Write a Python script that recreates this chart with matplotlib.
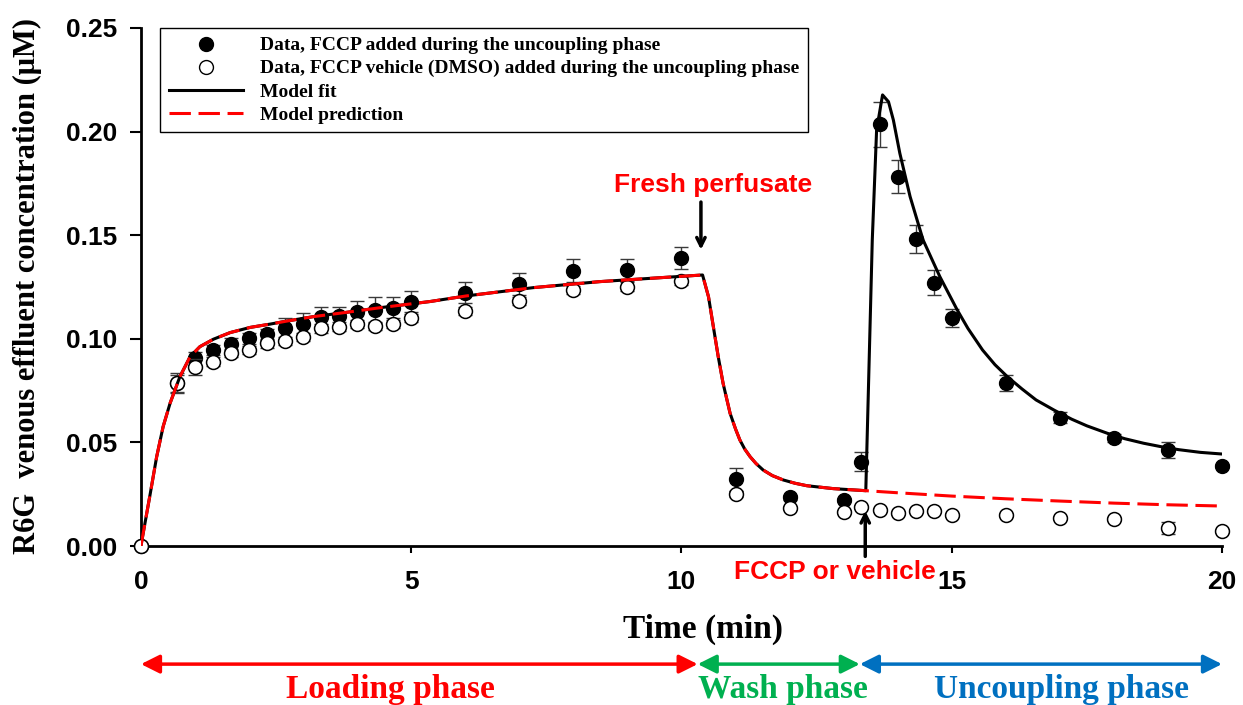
import matplotlib
matplotlib.use("Agg")
import matplotlib.pyplot as plt
from matplotlib.lines import Line2D

# sampling times (min)
t_data = [0, 0.67, 1.0, 1.33, 1.67, 2.0, 2.33, 2.67, 3.0, 3.33, 3.67, 4.0, 4.33, 4.67, 5.0,
          6, 7, 8, 9, 10, 11, 12, 13, 13.33, 13.67, 14, 14.33, 14.67, 15, 16, 17, 18, 19, 20]

# R6G effluent concentration, FCCP added (uM)
fccp_mean = [0, 0.0785, 0.0906, 0.0946, 0.0975, 0.1002, 0.1021, 0.1050, 0.1071, 0.1104, 0.1110,
             0.1131, 0.1139, 0.1150, 0.1180, 0.1223, 0.1263, 0.1329, 0.1332, 0.1391, 0.0322,
             0.0235, 0.0222, 0.0407, 0.2035, 0.1782, 0.1482, 0.1270, 0.1100, 0.0788, 0.0620,
             0.0523, 0.0463, 0.0388]
fccp_err = [0, 0.0048, 0.0030, 0.0024, 0.0027, 0.0025, 0.0025, 0.0050, 0.0053, 0.0050, 0.0045,
            0.0050, 0.0061, 0.0050, 0.0052, 0.0049, 0.0053, 0.0056, 0.0053, 0.0054, 0.0056,
            0.0012, 0.0010, 0.0045, 0.0110, 0.0080, 0.0066, 0.0060, 0.0045, 0.0038, 0.0028,
            0.0020, 0.0040, 0.0010]

# R6G effluent concentration, DMSO vehicle (uM)
dmso_mean = [0, 0.0785, 0.0863, 0.0890, 0.0930, 0.0946, 0.0978, 0.0988, 0.1010, 0.1050, 0.1059,
             0.1071, 0.1062, 0.1071, 0.1100, 0.1134, 0.1182, 0.1236, 0.1252, 0.1279, 0.0251,
             0.0182, 0.0166, 0.0188, 0.0174, 0.0161, 0.0170, 0.0170, 0.0150, 0.0150, 0.0135,
             0.0130, 0.0087, 0.0074]
dmso_err = [0, 0.0040, 0.0038, 0.0020, 0.0020, 0.0020, 0.0020, 0.0020, 0.0020, 0.0020, 0.0020,
            0.0020, 0.0020, 0.0020, 0.0020, 0.0020, 0.0020, 0.0020, 0.0020, 0.0020, 0.0015,
            0.0010, 0.0010, 0.0010, 0.0010, 0.0010, 0.0010, 0.0010, 0.0010, 0.0010, 0.0010,
            0.0010, 0.0030, 0.0010]

# model curve shared by fit and prediction (loading + wash)
t_load = [0, 0.04, 0.17, 0.29, 0.41, 0.54, 0.72, 0.91, 1.09, 1.34, 1.65, 2.02, 2.39, 2.73,
          3.19, 3.81, 4.42, 5.35, 6.02, 7.26, 8.49, 9.73, 10.39]
y_load = [0, 0.006, 0.025, 0.043, 0.0576, 0.069, 0.0817, 0.0914, 0.0962, 0.0998, 0.103,
          0.1055, 0.1071, 0.1087, 0.1107, 0.1128, 0.115, 0.118, 0.1207, 0.1247, 0.1276,
          0.1297, 0.1308]
t_wash = [10.50, 10.59, 10.68, 10.77, 10.90, 11.0, 11.08, 11.17, 11.27, 11.38, 11.51, 11.68,
          11.88, 12.1, 12.32, 12.81, 13.41]
y_wash = [0.1203, 0.1058, 0.0914, 0.0785, 0.064, 0.0565, 0.0512, 0.0468, 0.0431, 0.0398,
          0.0367, 0.0340, 0.0319, 0.0303, 0.0291, 0.0277, 0.0267]

# uncoupling phase: fitted (FCCP) and predicted (vehicle)
t_fit_unc = [13.53, 13.61, 13.72, 13.83, 13.92, 14.04, 14.23, 14.47, 14.78, 15.1, 15.3,
             15.57, 15.8, 16.03, 16.3, 16.56, 16.9, 17.22, 17.5, 17.88, 18.2, 18.55, 18.9,
             19.2, 19.6, 20.0]
y_fit_unc = [0.1477, 0.2008, 0.2177, 0.2144, 0.2056, 0.1895, 0.1686, 0.1477, 0.1300, 0.1140,
             0.1050, 0.0946, 0.0875, 0.0817, 0.0758, 0.0705, 0.0655, 0.0612, 0.0580, 0.0544,
             0.0518, 0.0496, 0.0478, 0.0465, 0.0452, 0.0444]
t_pred_unc = [14, 15, 16, 17, 18, 19, 20]
y_pred_unc = [0.0257, 0.0241, 0.0228, 0.0217, 0.0207, 0.0199, 0.0193]

# phases along the time axis
phase_names = ["Loading phase", "Wash phase", "Uncoupling phase"]
phase_bounds = [(0, 10.3), (10.3, 13.3), (13.3, 20)]
phase_label_x = [4.61, 11.88, 17.04]
phase_colors = ["#ff0000", "#00b050", "#0070c0"]

SERIF = "Liberation Serif"
SANS = "Liberation Sans"

fig = plt.figure(figsize=(12.43, 7.05), dpi=100)
ax = fig.add_axes([0.1134, 0.2255, 0.8697, 0.7348])

# error bars under the markers
ax.errorbar(t_data, fccp_mean, yerr=fccp_err, fmt="none", ecolor="#3a3a3a",
            elinewidth=1, capsize=5, capthick=1, zorder=2, clip_on=False)
ax.plot(t_data, fccp_mean, "o", ms=10, mfc="black", mec="black", zorder=3, clip_on=False)
ax.errorbar(t_data, dmso_mean, yerr=dmso_err, fmt="none", ecolor="#3a3a3a",
            elinewidth=1, capsize=5, capthick=1, zorder=3.5, clip_on=False)
ax.plot(t_data, dmso_mean, "o", ms=10, mfc="white", mec="black", mew=1.1, zorder=4,
        clip_on=False)

fit_t = t_load + t_wash + t_fit_unc
fit_y = y_load + y_wash + y_fit_unc
pred_t = t_load + t_wash + t_pred_unc
pred_y = y_load + y_wash + y_pred_unc
ax.plot(fit_t, fit_y, color="black", lw=2.2, zorder=5)
ax.plot(pred_t, pred_y, color="#ff0000", lw=2.2, dashes=(7, 2.5), zorder=6)

ax.set_xlim(0, 20)
ax.set_ylim(0, 0.25)
ax.set_xticks([0, 5, 10, 15, 20])
ax.set_yticks([0, 0.05, 0.10, 0.15, 0.20, 0.25])
ax.set_yticklabels(["0.00", "0.05", "0.10", "0.15", "0.20", "0.25"])
for s in ["top", "right"]:
    ax.spines[s].set_visible(False)
for s in ["left", "bottom"]:
    ax.spines[s].set_linewidth(2)
ax.tick_params(axis="y", direction="out", length=8, width=1.5, pad=9)
ax.tick_params(axis="x", direction="out", length=5, width=1.5, pad=12)
for lab in ax.get_xticklabels() + ax.get_yticklabels():
    lab.set_fontfamily(SANS)
    lab.set_fontweight("bold")
    lab.set_fontsize(19)

ax.set_xlabel("Time (min)", fontfamily=SERIF, fontweight="bold", fontsize=24)
ax.xaxis.set_label_coords(0.52, -0.131)
fig.text(0.022, 0.595, "R6G  venous effluent concentration (\u03bcM)", rotation=90,
         ha="center", va="center", fontfamily=SERIF, fontweight="bold", fontsize=22)

# legend
handles = [
    Line2D([], [], ls="none", marker="o", ms=10, mfc="black", mec="black"),
    Line2D([], [], ls="none", marker="o", ms=10, mfc="white", mec="black"),
    Line2D([], [], color="black", lw=2.2),
    Line2D([], [], color="#ff0000", lw=2.2, dashes=(7, 2.5)),
]
labels = ["Data, FCCP added during the uncoupling phase",
          "Data, FCCP vehicle (DMSO) added during the uncoupling phase",
          "Model fit", "Model prediction"]
leg = ax.legend(handles, labels, loc="upper left", bbox_to_anchor=(0.0176, 1.0),
                borderaxespad=0, fancybox=False, framealpha=1, edgecolor="black",
                handlelength=3.8, handletextpad=0.9, labelspacing=0.28, borderpad=0.45,
                prop={"family": SERIF, "weight": "bold", "size": 14})
leg.get_frame().set_linewidth(1)

# event markers
ax.annotate("", xy=(10.36, 0.143), xytext=(10.36, 0.166),
            arrowprops=dict(arrowstyle="->,head_length=0.6,head_width=0.3", lw=2.5,
                            color="black", shrinkA=0, shrinkB=0))
ax.text(10.58, 0.174, "Fresh perfusate", color="#ff0000", fontfamily=SANS,
        fontweight="bold", fontsize=19, ha="center", va="center")
ax.annotate("", xy=(13.4, 0.017), xytext=(13.4, -0.005),
            arrowprops=dict(arrowstyle="->,head_length=0.6,head_width=0.3", lw=2.5,
                            color="black", shrinkA=0, shrinkB=0),
            annotation_clip=False)
ax.text(12.84, -0.0125, "FCCP or vehicle", color="#ff0000", fontfamily=SANS,
        fontweight="bold", fontsize=19, ha="center", va="center", clip_on=False)

# phase ranges below the axis
for name, (a, b), lx, col in zip(phase_names, phase_bounds, phase_label_x, phase_colors):
    ax.annotate("", xy=(b, 0.058), xytext=(a, 0.058),
                xycoords=("data", "figure fraction"),
                textcoords=("data", "figure fraction"),
                arrowprops=dict(arrowstyle="<|-|>,head_length=0.7,head_width=0.35",
                                lw=2.5, color=col, shrinkA=0, shrinkB=0,
                                mutation_scale=16),
                annotation_clip=False)
    ax.annotate(name, xy=(lx, 0.022), xycoords=("data", "figure fraction"),
                ha="center", va="center", color=col, fontfamily=SERIF,
                fontweight="bold", fontsize=24, annotation_clip=False)

fig.savefig("out.png", dpi=100)
